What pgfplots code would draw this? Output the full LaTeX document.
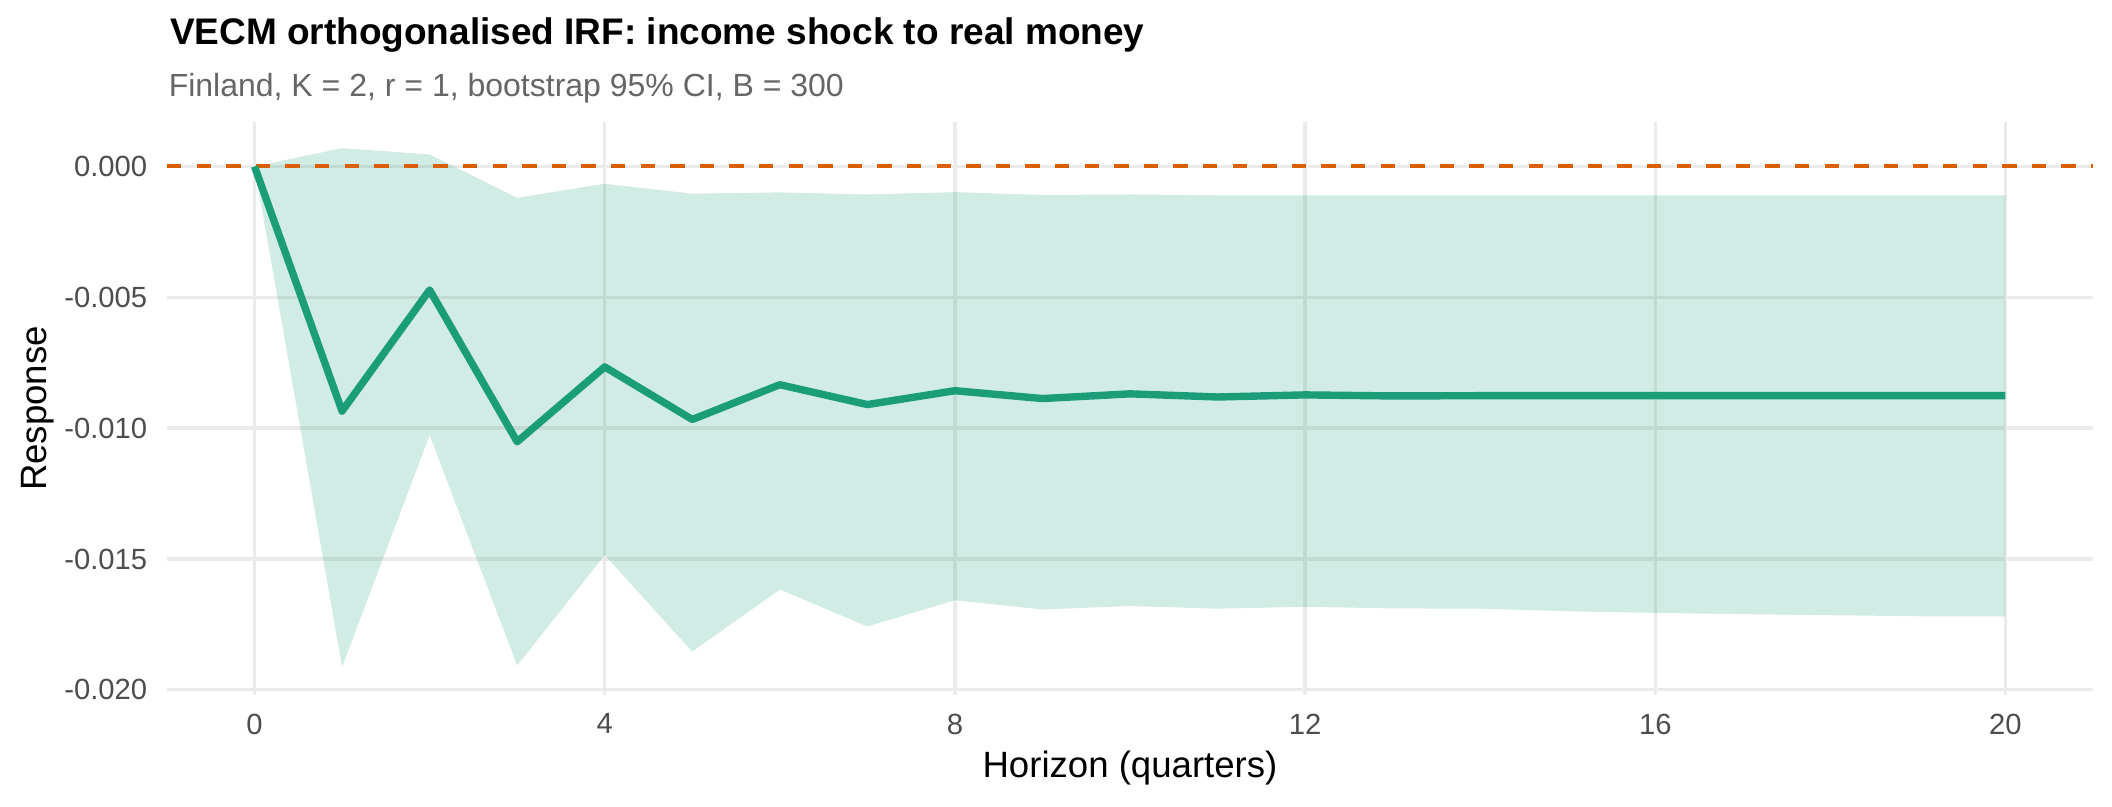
\documentclass[border=0pt]{standalone}
\usepackage{fontspec}
\setmainfont{Liberation Sans}
\usepackage{pgfplots}
\pgfplotsset{compat=1.18}
\usepackage{pgfplotstable}
\usepgfplotslibrary{fillbetween}
\definecolor{lineg}{HTML}{1B9E77}
\definecolor{hl}{HTML}{D95F02}
\definecolor{gridg}{HTML}{EBEBEB}
\definecolor{tickg}{HTML}{4D4D4D}
\definecolor{subg}{HTML}{666666}

\pgfplotstableread{
h est lo up
0 0 0 0
1 -0.00935 -0.01913 0.00070
2 -0.00472 -0.01027 0.00046
3 -0.01052 -0.01907 -0.00120
4 -0.00766 -0.01485 -0.00066
5 -0.00967 -0.01854 -0.00104
6 -0.00834 -0.01617 -0.00099
7 -0.00910 -0.01758 -0.00107
8 -0.00857 -0.01658 -0.00098
9 -0.00887 -0.01693 -0.00109
10 -0.00869 -0.01680 -0.00107
11 -0.00881 -0.01690 -0.00110
12 -0.00873 -0.01683 -0.00110
13 -0.00877 -0.01689 -0.00110
14 -0.00876 -0.01690 -0.00110
15 -0.00876 -0.01700 -0.00110
16 -0.00876 -0.01706 -0.00110
17 -0.00876 -0.01711 -0.00110
18 -0.00876 -0.01715 -0.00110
19 -0.00876 -0.01719 -0.00110
20 -0.00876 -0.01720 -0.00110
}\irf

\begin{document}
\begin{tikzpicture}
\path (0,0) rectangle (528pt,201.5pt);
\begin{axis}[
  at={(41.75pt,27.75pt)}, anchor=south west,
  scale only axis, width=481.5pt, height=143.25pt,
  xmin=-1, xmax=21, ymin=-0.0202, ymax=0.0017,
  xtick={0,4,8,12,16,20}, xticklabels={0,4,8,12,16,20},
  ytick={-0.02,-0.015,-0.01,-0.005,0},
  yticklabels={-0.020,-0.015,-0.010,-0.005,0.000},
  scaled y ticks=false, scaled x ticks=false,
  axis line style={draw=none}, major tick length=0pt,
  grid=major, major grid style={draw=gridg, line width=0.85pt},
  tick label style={font=\fontsize{7.3}{8}\selectfont, text=tickg, inner sep=0pt},
  yticklabel style={anchor=east, xshift=-4.75pt},
  xticklabel style={anchor=north, yshift=-4.5pt},
]
\addplot[name path=up, draw=none, forget plot] table[x=h,y=up]{\irf};
\addplot[name path=lo, draw=none, forget plot] table[x=h,y=lo]{\irf};
\addplot[fill=lineg, fill opacity=0.2, draw=none] fill between[of=up and lo];
\addplot[hl, line width=1pt, dash pattern=on 3.6pt off 3.8pt] coordinates {(-1,0) (21,0)};
\addplot[lineg, line width=1.85pt, line join=round] table[x=h,y=est]{\irf};
\end{axis}
\node[anchor=base west, inner sep=0pt, font=\fontsize{9.25}{11}\selectfont\bfseries] at (42.3pt,190.25pt) {VECM orthogonalised IRF: income shock to real money};
\node[anchor=base west, inner sep=0pt, text=subg, font=\fontsize{8}{10}\selectfont] at (42pt,177.5pt) {Finland, K = 2, r = 1, bootstrap 95\% CI, B = 300};
\node[anchor=base, inner sep=0pt, font=\fontsize{9.15}{11}\selectfont] at (282.5pt,7.25pt) {Horizon (quarters)};
\node[anchor=base, rotate=90, inner sep=0pt, font=\fontsize{9.15}{11}\selectfont] at (11.7pt,99.4pt) {Response};
\end{tikzpicture}
\end{document}
